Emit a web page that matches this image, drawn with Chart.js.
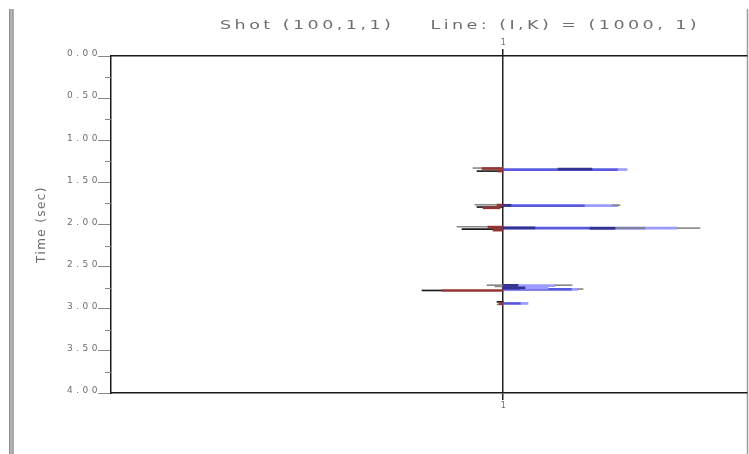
<!DOCTYPE html>
<html>
<head>
<meta charset="utf-8">
<script src="https://cdn.jsdelivr.net/npm/chart.js@4/dist/chart.umd.min.js"></script>
<style>
  html, body { margin: 0; padding: 0; background: #fff; }
  #wrap { width: 749px; height: 454px; position: relative; }
</style>
</head>
<body>
<div id="wrap"><canvas id="c" width="749" height="454"></canvas></div>
<script>
// Text
const titleText = 'Shot (100,1,1)    Line: (I,K) = (1000, 1)';
const timeAxisTitle = 'Time (sec)';

// Time axis (seconds, increasing downward)
const timeTicks = [0, 0.5, 1, 1.5, 2, 2.5, 3, 3.5, 4];
const minorTimeTicks = [0.25, 0.75, 1.25, 1.75, 2.25, 2.75, 3.25, 3.75];

// Trace axis: one trace, plotted at position 1
const traceTicks = [1];
const traceLabels = ['1'];

// Wiggle segments of the trace: [time (s), from, to] in trace-amplitude units,
// the trace baseline sits at 1
const blueLobes = [
  [1.348, 1.00, 2.15],
  [1.776, 1.00, 1.82],
  [2.043, 1.00, 2.42],
  [2.726, 1.00, 1.15],
  [2.770, 1.00, 1.69],
  [2.937, 1.00, 1.18]
];
const lightBlueTips = [
  [1.348, 2.15, 2.24],
  [1.776, 1.82, 2.15],
  [2.043, 2.42, 2.74],
  [2.726, 1.15, 1.52],
  [2.756, 1.17, 1.45],
  [2.770, 1.69, 1.75],
  [2.937, 1.18, 1.25]
];
const navyCores = [
  [1.342, 1.55, 1.89],
  [1.772, 1.00, 1.08],
  [2.040, 1.00, 1.32],
  [2.045, 1.87, 2.12],
  [2.722, 1.00, 1.15],
  [2.752, 1.00, 1.22]
];
const grayTraces = [
  [1.330, 0.70, 1.00],
  [1.766, 0.72, 1.00],
  [1.770, 2.09, 2.17],
  [2.027, 0.54, 1.00],
  [2.040, 2.12, 2.42],
  [2.043, 2.74, 2.97],
  [2.720, 0.84, 1.00],
  [2.720, 1.52, 1.69],
  [2.735, 0.92, 1.00],
  [2.766, 1.75, 1.80],
  [2.949, 0.94, 1.00]
];
const blackTraces = [
  [1.366, 0.74, 0.97],
  [1.793, 0.74, 1.00],
  [2.055, 0.59, 1.00],
  [2.783, 0.19, 0.39],
  [2.918, 0.94, 1.00]
];
const redLobes = [
  [1.336, 0.79, 1.00],
  [1.366, 0.95, 1.00],
  [1.770, 0.94, 1.00],
  [1.802, 0.80, 0.97],
  [2.031, 0.85, 1.00],
  [2.067, 0.90, 1.00],
  [2.783, 0.39, 1.00],
  [2.940, 0.96, 1.00]
];

const toBars = segs => segs.map(s => ({ y: s[0], x: [s[1], s[2]] }));
const seg = (label, segs, color, thickness) => ({
  label,
  data: toBars(segs),
  backgroundColor: color,
  borderWidth: 0,
  barThickness: thickness,
  grouped: false,
  xAxisID: 'x',
  yAxisID: 'y'
});

const TEXT_GRAY = '#6e6e6e';
const FONT = '"DejaVu Sans", "Liberation Sans", sans-serif';

// Frame decoration, minor time ticks and the spaced-out lettering
const framePlugin = {
  id: 'frame',
  beforeDraw(chart) {
    const ctx = chart.ctx;
    ctx.save();
    ctx.fillStyle = '#fff';
    ctx.fillRect(0, 0, chart.width, chart.height);
    // double rule on the left edge
    ctx.fillStyle = '#b4b4b4';
    ctx.fillRect(9, 9, 4.5, chart.height - 9);
    ctx.strokeStyle = '#8a8a8a';
    ctx.lineWidth = 1;
    ctx.beginPath();
    ctx.moveTo(9.5, 9); ctx.lineTo(9.5, chart.height);
    ctx.moveTo(13, 9); ctx.lineTo(13, chart.height);
    ctx.stroke();
    // rule on the right edge
    ctx.strokeStyle = '#9a9a9a';
    ctx.lineWidth = 1.5;
    ctx.beginPath();
    ctx.moveTo(747.5, 9); ctx.lineTo(747.5, chart.height);
    ctx.stroke();
    ctx.restore();
    // wide lettering for the axis tick labels
    ctx.letterSpacing = '3.5px';
  },
  afterDraw(chart) {
    const ctx = chart.ctx;
    ctx.letterSpacing = '0px';
    const ys = chart.scales.y;
    ctx.save();
    ctx.strokeStyle = '#888';
    ctx.lineWidth = 1;
    ctx.beginPath();
    minorTimeTicks.forEach(v => {
      const py = Math.round(ys.getPixelForValue(v)) + 0.5;
      ctx.moveTo(ys.right - 6, py);
      ctx.lineTo(ys.right, py);
    });
    ctx.stroke();

    // title
    ctx.fillStyle = TEXT_GRAY;
    ctx.font = '13px ' + FONT;
    ctx.letterSpacing = '2.55px';
    ctx.textAlign = 'left';
    ctx.textBaseline = 'middle';
    ctx.save();
    ctx.translate(220, 26);
    ctx.scale(1.35, 1);
    ctx.fillText(titleText, 0, 0);
    ctx.restore();

    // time axis title
    ctx.font = '12px ' + FONT;
    ctx.letterSpacing = '1.4px';
    ctx.textAlign = 'center';
    ctx.save();
    ctx.translate(42, (ys.top + ys.bottom) / 2);
    ctx.rotate(-Math.PI / 2);
    ctx.fillText(timeAxisTitle, 0, 0);
    ctx.restore();
    ctx.restore();
    ctx.letterSpacing = '0px';
  }
};

const traceAxis = (position, onArea, height) => ({
  type: 'linear',
  position,
  min: -2.92,
  max: 3.44,
  offset: false,
  z: 1,
  afterBuildTicks: s => { s.ticks = traceTicks.map(v => ({ value: v })); },
  afterFit: s => { s.height = height; },
  ticks: {
    callback: (v, i) => traceLabels[i],
    color: TEXT_GRAY,
    font: { family: FONT, size: 8 },
    padding: 1,
    labelOffset: 2,
    maxRotation: 0
  },
  grid: {
    offset: false,
    drawOnChartArea: onArea,
    color: '#222',
    lineWidth: 1.5,
    tickLength: 7,
    tickColor: '#222',
    tickWidth: 1.5
  },
  border: { color: '#1a1a1a', width: 1.5 }
});

new Chart(document.getElementById('c'), {
  type: 'bar',
  data: {
    datasets: [
      seg('core', navyCores, '#33338f', 2),
      seg('negative', redLobes, '#963434', 2),
      seg('trace', blackTraces, '#1a1a1a', 1),
      seg('outline', grayTraces, '#8a8a8a', 1),
      seg('tip', lightBlueTips, '#9c9cff', 2),
      seg('positive', blueLobes, '#5a5ae0', 2)
    ]
  },
  options: {
    indexAxis: 'y',
    responsive: false,
    animation: false,
    devicePixelRatio: 1,
    layout: { padding: { left: 0, right: 2, top: 0, bottom: 0 } },
    plugins: {
      legend: { display: false },
      tooltip: { enabled: false },
      title: { display: false }
    },
    scales: {
      y: {
        type: 'linear',
        position: 'left',
        reverse: true,
        min: 0,
        max: 4,
        offset: false,
        afterBuildTicks: s => { s.ticks = timeTicks.map(v => ({ value: v })); },
        afterFit: s => { s.width = 111; },
        ticks: {
          callback: v => Number(v).toFixed(2),
          color: TEXT_GRAY,
          font: { family: FONT, size: 9 },
          padding: -3,
          labelOffset: -2
        },
        grid: {
          offset: false,
          drawOnChartArea: false,
          tickLength: 13,
          tickColor: '#888',
          tickWidth: 1
        },
        border: { color: '#1a1a1a', width: 1.5 }
      },
      x: traceAxis('bottom', true, 61),
      xTop: traceAxis('top', false, 56)
    }
  },
  plugins: [framePlugin]
});
</script>
</body>
</html>
